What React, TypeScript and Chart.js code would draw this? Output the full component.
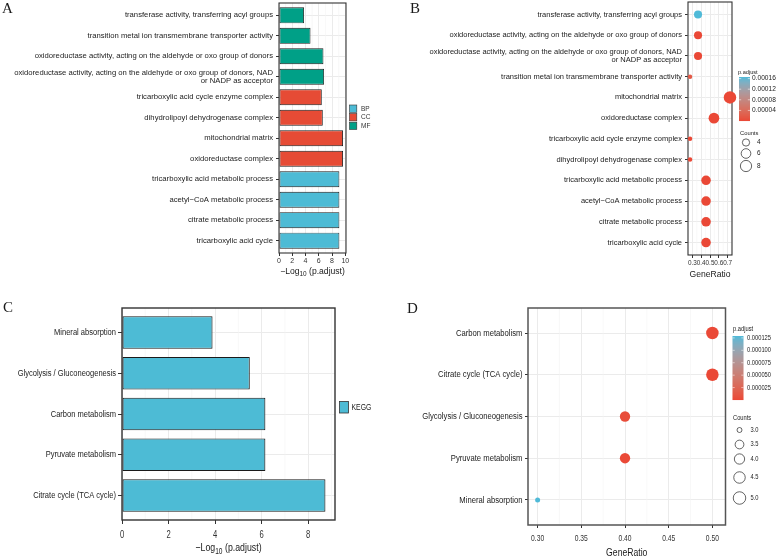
import React, { useEffect, useRef } from "react";
import { Chart, registerables } from "chart.js";
Chart.register(...registerables);

const W = 777;
const H = 560;
const SANS = '"Liberation Sans", Arial, sans-serif';
const SERIF = '"Liberation Serif", "Times New Roman", serif';
const NARROW_X = 0.8; // horizontal squeeze to mimic a narrow face

// ---------------- data ----------------
// Panel A: GO enrichment bar chart (top to bottom)
const goTerms = [
  "transferase activity, transferring acyl groups",
  "transition metal ion transmembrane transporter activity",
  "oxidoreductase activity, acting on the aldehyde or oxo group of donors",
  "oxidoreductase activity, acting on the aldehyde or oxo group of donors, NAD\nor NADP as acceptor",
  "tricarboxylic acid cycle enzyme complex",
  "dihydrolipoyl dehydrogenase complex",
  "mitochondrial matrix",
  "oxidoreductase complex",
  "tricarboxylic acid metabolic process",
  "acetyl\u2212CoA metabolic process",
  "citrate metabolic process",
  "tricarboxylic acid cycle",
];
const goOntology = ["MF", "MF", "MF", "MF", "CC", "CC", "CC", "CC", "BP", "BP", "BP", "BP"];
const goNegLogP = [3.78, 4.75, 6.7, 6.8, 6.45, 6.6, 9.65, 9.65, 9.1, 9.1, 9.1, 9.1];
const goBarTicks = [0, 2, 4, 6, 8, 10];
const goBarMinor = [1, 3, 5, 7, 9];
const ontologyNames = ["BP", "CC", "MF"];

// Panel B: GO dot plot (top to bottom)
const goDotTerms = [
  "transferase activity, transferring acyl groups",
  "oxidoreductase activity, acting on the aldehyde or oxo group of donors",
  "oxidoreductase activity, acting on the aldehyde or oxo group of donors, NAD\nor NADP as acceptor",
  "transition metal ion transmembrane transporter activity",
  "mitochondrial matrix",
  "oxidoreductase complex",
  "tricarboxylic acid cycle enzyme complex",
  "dihydrolipoyl dehydrogenase complex",
  "tricarboxylic acid metabolic process",
  "acetyl\u2212CoA metabolic process",
  "citrate metabolic process",
  "tricarboxylic acid cycle",
];
const goDotRatio = [0.364, 0.364, 0.364, 0.273, 0.727, 0.545, 0.273, 0.273, 0.455, 0.455, 0.455, 0.455];
const goDotCount = [4, 4, 4, 3, 8, 6, 3, 3, 5, 5, 5, 5];
const goDotTicks = [0.3, 0.4, 0.5, 0.6, 0.7];
const goDotMinor = [0.25, 0.35, 0.45, 0.55, 0.65, 0.75];
const goPBreaks = [0.00004, 0.00008, 0.00012, 0.00016];
const goCountBreaks = [4, 6, 8];

// Panel C: KEGG bar chart (top to bottom)
const keggTerms = [
  "Mineral absorption",
  "Glycolysis / Gluconeogenesis",
  "Carbon metabolism",
  "Pyruvate metabolism",
  "Citrate cycle (TCA cycle)",
];
const keggNegLogP = [3.89, 5.49, 6.16, 6.16, 8.74];
const keggBarTicks = [0, 2, 4, 6, 8];
const keggBarMinor = [1, 3, 5, 7, 9];

// Panel D: KEGG dot plot (top to bottom)
const keggDotTerms = [
  "Carbon metabolism",
  "Citrate cycle (TCA cycle)",
  "Glycolysis / Gluconeogenesis",
  "Pyruvate metabolism",
  "Mineral absorption",
];
const keggDotRatio = [0.5, 0.5, 0.4, 0.4, 0.3];
const keggDotCount = [5, 5, 4, 4, 3];
const keggDotTicks = [0.3, 0.35, 0.4, 0.45, 0.5];
const keggDotMinor = [0.325, 0.375, 0.425, 0.475];
const keggPBreaks = [0.000025, 0.00005, 0.000075, 0.0001, 0.000125];
const keggCountBreaks = [3, 3.5, 4, 4.5, 5];

// ---------------- styling ----------------
const ontologyColors: Record<string, string> = { BP: "#4DBBD5", CC: "#E64B35", MF: "#00A087" };
const keggColor = "#4DBBD5";
const LOW = "#EA4836";
const HIGH = "#4FBAD8";
const GRID = "#EBEBEB";
const MINOR = "#F3F3F3";

// Lab interpolation (like ggplot gradient)
function hexToRgb(h: string) {
  const n = parseInt(h.slice(1), 16);
  return [(n >> 16) & 255, (n >> 8) & 255, n & 255];
}
const toLin = (c: number) => {
  c /= 255;
  return c <= 0.04045 ? c / 12.92 : Math.pow((c + 0.055) / 1.055, 2.4);
};
const fromLin = (c: number) => {
  const v = c <= 0.0031308 ? 12.92 * c : 1.055 * Math.pow(c, 1 / 2.4) - 0.055;
  return Math.round(Math.min(1, Math.max(0, v)) * 255);
};
function rgbToLab(rgb: number[]) {
  const [R, G, B] = rgb.map(toLin);
  const X = (0.4124 * R + 0.3576 * G + 0.1805 * B) / 0.95047;
  const Y = 0.2126 * R + 0.7152 * G + 0.0722 * B;
  const Z = (0.0193 * R + 0.1192 * G + 0.9505 * B) / 1.08883;
  const f = (t: number) => (t > 0.008856 ? Math.cbrt(t) : 7.787 * t + 16 / 116);
  const fx = f(X), fy = f(Y), fz = f(Z);
  return [116 * fy - 16, 500 * (fx - fy), 200 * (fy - fz)];
}
function labToRgb(lab: number[]) {
  const [L, a, b] = lab;
  const fy = (L + 16) / 116, fx = fy + a / 500, fz = fy - b / 200;
  const fi = (t: number) => (t * t * t > 0.008856 ? t * t * t : (t - 16 / 116) / 7.787);
  const X = fi(fx) * 0.95047, Y = fi(fy), Z = fi(fz) * 1.08883;
  const R = 3.2406 * X - 1.5372 * Y - 0.4986 * Z;
  const G = -0.9689 * X + 1.8758 * Y + 0.0415 * Z;
  const B = 0.0557 * X - 0.204 * Y + 1.057 * Z;
  return [fromLin(R), fromLin(G), fromLin(B)];
}
const labLow = rgbToLab(hexToRgb(LOW));
const labHigh = rgbToLab(hexToRgb(HIGH));
function gradient(t: number) {
  const c = labLow.map((v, i) => v + (labHigh[i] - v) * t);
  const [r, g, b] = labToRgb(c);
  return `rgb(${r},${g},${b})`;
}

const sizeDiam = (c: number, cmin: number, cmax: number, dmin: number, dmax: number) =>
  dmin + (dmax - dmin) * Math.sqrt((c - cmin) / (cmax - cmin));

const pOf = (negLog: number) => Math.pow(10, -negLog);

type Part = { t: string; sub?: boolean };
function drawParts(ctx: CanvasRenderingContext2D, cx: number, cy: number, parts: Part[], size: number, family: string, color: string, sx = 1) {
  const fMain = `${size}px ${family}`;
  const fSub = `${size * 0.75}px ${family}`;
  const widths = parts.map((p) => {
    ctx.font = p.sub ? fSub : fMain;
    return ctx.measureText(p.t).width;
  });
  const total = widths.reduce((a, b) => a + b, 0);
  ctx.save();
  ctx.translate(cx, cy);
  ctx.scale(sx, 1);
  let x = -total / 2;
  ctx.fillStyle = color;
  ctx.textAlign = "left";
  ctx.textBaseline = "middle";
  parts.forEach((p, i) => {
    ctx.font = p.sub ? fSub : fMain;
    ctx.fillText(p.t, x, p.sub ? size * 0.3 : 0);
    x += widths[i];
  });
  ctx.restore();
}
function text(ctx: CanvasRenderingContext2D, s: string, x: number, y: number, size: number, family: string, color = "#222", align: CanvasTextAlign = "left", sx = 1) {
  ctx.save();
  ctx.translate(x, y);
  ctx.scale(sx, 1);
  ctx.font = `${size}px ${family}`;
  ctx.fillStyle = color;
  ctx.textAlign = align;
  ctx.textBaseline = "middle";
  ctx.fillText(s, 0, 0);
  ctx.restore();
}

type Spec = {
  l: number; r: number; t: number; b: number;
  xMin: number; xMax: number; xTicks: number[]; xMinor: number[]; xFmt: (v: number) => string;
  cats: string[];
  tickFont: { family: string; size: number; lineHeight?: number }; catFont: { family: string; size: number; lineHeight?: number };
  xPad: number; yPad: number; tickLen: number;
  manual?: { sx: number; tickSx: number; xLabelY: number };
  border: { color: string; width: number };
  title: { parts: Part[]; y: number; size: number; family: string };
  letter: { s: string; x: number; y: number; size: number };
  legend: (ctx: CanvasRenderingContext2D) => void;
};

const zeroPad = (s: any) => {
  s.paddingTop = 0; s.paddingBottom = 0; s.paddingLeft = 0; s.paddingRight = 0;
};

function baseOptions(sp: Spec, extra: any) {
  const n = sp.cats.length;
  return {
    responsive: false,
    maintainAspectRatio: false,
    animation: false,
    devicePixelRatio: 1,
    events: [],
    layout: { autoPadding: false, padding: { left: 0, top: sp.t, right: W - sp.r, bottom: 0 } },
    plugins: { legend: { display: false }, tooltip: { enabled: false } },
    scales: {
      x: {
        type: "linear",
        min: sp.xMin,
        max: sp.xMax,
        offset: false,
        afterBuildTicks: (s: any) => { s.ticks = sp.xTicks.map((v) => ({ value: v })); },
        afterFit: (s: any) => { s.height = H - sp.b; zeroPad(s); },
        border: { display: false },
        grid: { color: GRID, lineWidth: 1, tickColor: "#333", tickLength: sp.tickLen, drawTicks: true, offset: false },
        ticks: { display: !sp.manual, autoSkip: false, maxRotation: 0, minRotation: 0, padding: sp.xPad, color: "#333", font: sp.tickFont, callback: (v: any) => sp.xFmt(Number(v)) },
      },
      y: {
        type: "linear",
        reverse: true,
        min: -0.6,
        max: n - 1 + 0.6,
        offset: false,
        afterBuildTicks: (s: any) => { s.ticks = sp.cats.map((_, i) => ({ value: i })); },
        afterFit: (s: any) => { s.width = sp.l; zeroPad(s); },
        border: { display: false },
        grid: { color: GRID, lineWidth: 1, tickColor: "#333", tickLength: sp.tickLen, drawTicks: true, offset: false },
        ticks: {
          display: !sp.manual,
          autoSkip: false, padding: sp.yPad, color: "#222", font: sp.catFont,
          callback: (v: any) => {
            const lab = sp.cats[Math.round(Number(v))];
            return lab && lab.includes("\n") ? lab.split("\n") : lab;
          },
        },
      },
    },
    ...extra,
  };
}

function decoPlugin(sp: Spec) {
  return {
    id: "deco",
    beforeDatasetsDraw(chart: any) {
      const { ctx, chartArea: a, scales } = chart;
      ctx.save();
      ctx.strokeStyle = MINOR;
      ctx.lineWidth = 0.6;
      sp.xMinor.forEach((v) => {
        const x = scales.x.getPixelForValue(v);
        ctx.beginPath();
        ctx.moveTo(x, a.top);
        ctx.lineTo(x, a.bottom);
        ctx.stroke();
      });
      ctx.strokeStyle = sp.border.color;
      ctx.lineWidth = sp.border.width;
      ctx.strokeRect(a.left, a.top, a.right - a.left, a.bottom - a.top);
      ctx.restore();
    },
    afterDraw(chart: any) {
      const { ctx, chartArea: a, scales } = chart;
      ctx.save();
      const sx = sp.manual ? sp.manual.sx : 1;
      if (sp.manual) {
        sp.cats.forEach((c, i) => {
          const y = scales.y.getPixelForValue(i);
          text(ctx, c, a.left - sp.tickLen - sp.yPad, y, sp.catFont.size, sp.catFont.family, "#222", "right", sx);
        });
        sp.xTicks.forEach((v) => {
          const x = scales.x.getPixelForValue(v);
          text(ctx, sp.xFmt(v), x, sp.manual!.xLabelY, sp.tickFont.size, sp.tickFont.family, "#333", "center", sp.manual!.tickSx);
        });
      }
      drawParts(ctx, (a.left + a.right) / 2, sp.title.y, sp.title.parts, sp.title.size, sp.title.family, "#1a1a1a", sx);
      text(ctx, sp.letter.s, sp.letter.x, sp.letter.y, sp.letter.size, SERIF, "#1a1a1a");
      sp.legend(ctx);
      ctx.restore();
    },
  };
}

function colorbar(ctx: CanvasRenderingContext2D, x: number, y: number, w: number, h: number, pmin: number, pmax: number, breaks: number[], fmt: (v: number) => string, lx: number, size: number, family: string, sx = 1) {
  for (let i = 0; i < h; i++) {
    const t = 1 - (i + 0.5) / h;
    ctx.fillStyle = gradient(t);
    ctx.fillRect(x, y + i, w, 1.05);
  }
  breaks.forEach((v) => {
    const t = (v - pmin) / (pmax - pmin);
    const yy = y + h - t * h;
    ctx.strokeStyle = "rgba(255,255,255,0.9)";
    ctx.lineWidth = 0.6;
    ctx.beginPath();
    ctx.moveTo(x, yy); ctx.lineTo(x + w * 0.2, yy);
    ctx.moveTo(x + w * 0.8, yy); ctx.lineTo(x + w, yy);
    ctx.stroke();
    text(ctx, fmt(v), lx, yy, size, family, "#222", "left", sx);
  });
}

export default function App() {
  const refA = useRef<HTMLCanvasElement>(null);
  const refB = useRef<HTMLCanvasElement>(null);
  const refC = useRef<HTMLCanvasElement>(null);
  const refD = useRef<HTMLCanvasElement>(null);

  useEffect(() => {
    const charts: Chart[] = [];

    // ---------- A ----------
    const specA: Spec = {
      l: 279, r: 346, t: 3, b: 253,
      xMin: 0, xMax: 10.1, xTicks: goBarTicks, xMinor: goBarMinor, xFmt: (v) => String(v),
      cats: goTerms,
      tickFont: { family: SANS, size: 7 }, catFont: { family: SANS, size: 7.7, lineHeight: 1.08 },
      xPad: 1, yPad: 3, tickLen: 3,
      border: { color: "#333", width: 1.1 },
      title: { parts: [{ t: "\u2212Log" }, { t: "10", sub: true }, { t: " (p.adjust)" }], y: 272, size: 8.6, family: SANS },
      letter: { s: "A", x: 2, y: 9, size: 15 },
      legend: (ctx) => {
        ontologyNames.forEach((nm, i) => {
          const y = 105 + i * 8.6;
          ctx.fillStyle = ontologyColors[nm];
          ctx.fillRect(349.5, y, 7.3, 7.3);
          ctx.strokeStyle = "#333";
          ctx.lineWidth = 0.6;
          ctx.strokeRect(349.5, y, 7.3, 7.3);
          text(ctx, nm, 361, y + 3.8, 6.5, SANS, "#333");
        });
      },
    };
    charts.push(new Chart(refA.current!, {
      type: "bar",
      data: {
        datasets: [{
          data: goNegLogP.map((v, i) => ({ x: v, y: i })),
          backgroundColor: goOntology.map((o) => ontologyColors[o]),
          borderColor: "#1a1a1a",
          borderWidth: 0.9,
          borderSkipped: false,
          barPercentage: 0.78,
          categoryPercentage: 1,
        }],
      },
      options: baseOptions(specA, { indexAxis: "y" }) as any,
      plugins: [decoPlugin(specA)],
    } as any));

    // ---------- B ----------
    const goP = goDotTerms.map((t) => pOf(goNegLogP[goTerms.indexOf(t)]));
    const goPmin = Math.min(...goP), goPmax = Math.max(...goP);
    const bDmin = 4.5, bDmax = 12.5;
    const bCmin = Math.min(...goDotCount), bCmax = Math.max(...goDotCount);
    const specB: Spec = {
      l: 688, r: 732, t: 2, b: 255,
      xMin: 0.25, xMax: 0.75, xTicks: goDotTicks, xMinor: goDotMinor, xFmt: (v) => v.toFixed(1),
      cats: goDotTerms,
      tickFont: { family: SANS, size: 6.4 }, catFont: { family: SANS, size: 7.5, lineHeight: 1.08 },
      xPad: 1.5, yPad: 3, tickLen: 3,
      border: { color: "#333", width: 1.1 },
      title: { parts: [{ t: "GeneRatio" }], y: 275, size: 8.6, family: SANS },
      letter: { s: "B", x: 410, y: 9, size: 15 },
      legend: (ctx) => {
        text(ctx, "p.adjust", 738, 72.5, 5.6, SANS, "#222");
        colorbar(ctx, 739, 77, 11, 44, goPmin, goPmax, goPBreaks, (v) => v.toFixed(5), 752, 6.6, SANS);
        text(ctx, "Counts", 740, 133, 5.8, SANS, "#222");
        const ys = [142.5, 153.5, 166];
        goCountBreaks.forEach((c, i) => {
          const d = sizeDiam(c, bCmin, bCmax, bDmin, bDmax) * 0.9;
          ctx.strokeStyle = "#222";
          ctx.lineWidth = 0.7;
          ctx.beginPath();
          ctx.arc(746, ys[i], d / 2, 0, Math.PI * 2);
          ctx.stroke();
          text(ctx, String(c), 757, ys[i], 6.4, SANS, "#222");
        });
      },
    };
    charts.push(new Chart(refB.current!, {
      type: "bubble",
      data: {
        datasets: [{
          data: goDotRatio.map((x, i) => ({ x, y: i, r: sizeDiam(goDotCount[i], bCmin, bCmax, bDmin, bDmax) / 2 })),
          backgroundColor: goP.map((p) => gradient((p - goPmin) / (goPmax - goPmin))),
          borderWidth: 0,
          hoverRadius: 0,
          clip: false,
        }],
      },
      options: baseOptions(specB, {}) as any,
      plugins: [decoPlugin(specB)],
    } as any));

    // ---------- C ----------
    const specC: Spec = {
      l: 122, r: 335, t: 308, b: 520,
      xMin: 0, xMax: 9.15, xTicks: keggBarTicks, xMinor: keggBarMinor, xFmt: (v) => String(v),
      cats: keggTerms,
      tickFont: { family: SANS, size: 10.2 }, catFont: { family: SANS, size: 9.6 },
      xPad: 4, yPad: 2, tickLen: 4,
      manual: { sx: 0.785, tickSx: 0.75, xLabelY: 535 },
      border: { color: "#333", width: 1.4 },
      title: { parts: [{ t: "\u2212Log" }, { t: "10", sub: true }, { t: " (p.adjust)" }], y: 548, size: 11.2, family: SANS },
      letter: { s: "C", x: 3, y: 308, size: 15 },
      legend: (ctx) => {
        ctx.fillStyle = keggColor;
        ctx.fillRect(339.5, 401.5, 9, 11.5);
        ctx.strokeStyle = "#333";
        ctx.lineWidth = 0.8;
        ctx.strokeRect(339.5, 401.5, 9, 11.5);
        text(ctx, "KEGG", 351.5, 407.5, 8.6, SANS, "#222", "left", NARROW_X);
      },
    };
    charts.push(new Chart(refC.current!, {
      type: "bar",
      data: {
        datasets: [{
          data: keggNegLogP.map((v, i) => ({ x: v, y: i })),
          backgroundColor: keggColor,
          borderColor: "#1a1a1a",
          borderWidth: 1.1,
          borderSkipped: false,
          barPercentage: 0.8,
          categoryPercentage: 1,
        }],
      },
      options: baseOptions(specC, { indexAxis: "y" }) as any,
      plugins: [decoPlugin(specC)],
    } as any));

    // ---------- D ----------
    const keggP = keggDotTerms.map((t) => pOf(keggNegLogP[keggTerms.indexOf(t)]));
    const kPmin = Math.min(...keggP), kPmax = Math.max(...keggP);
    const dDmin = 5, dDmax = 12.5;
    const dCmin = Math.min(...keggDotCount), dCmax = Math.max(...keggDotCount);
    const specD: Spec = {
      l: 528, r: 725.5, t: 308, b: 525,
      xMin: 0.289, xMax: 0.515, xTicks: keggDotTicks, xMinor: keggDotMinor, xFmt: (v) => v.toFixed(2),
      cats: keggDotTerms,
      tickFont: { family: SANS, size: 9.6 }, catFont: { family: SANS, size: 9.6 },
      xPad: 4, yPad: 2.5, tickLen: 3,
      manual: { sx: 0.8, tickSx: 0.7, xLabelY: 538.5 },
      border: { color: "#555", width: 1.5 },
      title: { parts: [{ t: "GeneRatio" }], y: 553, size: 10.8, family: SANS },
      letter: { s: "D", x: 407, y: 309, size: 15 },
      legend: (ctx) => {
        text(ctx, "p.adjust", 733, 329.5, 7.2, SANS, "#222", "left", NARROW_X);
        colorbar(ctx, 732.5, 336, 11, 64, kPmin, kPmax, keggPBreaks, (v) => v.toFixed(6), 747, 7.2, SANS, NARROW_X);
        text(ctx, "Counts", 733, 418, 7.2, SANS, "#222", "left", NARROW_X);
        const ys = [430, 444.5, 459, 477.5, 498];
        keggCountBreaks.forEach((c, i) => {
          const d = sizeDiam(c, dCmin, dCmax, dDmin, dDmax);
          ctx.strokeStyle = "#222";
          ctx.lineWidth = 0.7;
          ctx.beginPath();
          ctx.arc(739.5, ys[i], d / 2, 0, Math.PI * 2);
          ctx.stroke();
          text(ctx, c.toFixed(1), 750.5, ys[i], 7.2, SANS, "#222", "left", NARROW_X);
        });
      },
    };
    charts.push(new Chart(refD.current!, {
      type: "bubble",
      data: {
        datasets: [{
          data: keggDotRatio.map((x, i) => ({ x, y: i, r: sizeDiam(keggDotCount[i], dCmin, dCmax, dDmin, dDmax) / 2 })),
          backgroundColor: keggP.map((p) => gradient((p - kPmin) / (kPmax - kPmin))),
          borderWidth: 0,
          hoverRadius: 0,
          clip: false,
        }],
      },
      options: baseOptions(specD, {}) as any,
      plugins: [decoPlugin(specD)],
    } as any));

    return () => charts.forEach((c) => c.destroy());
  }, []);

  const cs: React.CSSProperties = { position: "absolute", left: 0, top: 0, width: W, height: H };
  return (
    <div style={{ position: "fixed", left: 0, top: 0, width: W, height: H, background: "#fff", overflow: "hidden" }}>
      <canvas ref={refA} width={W} height={H} style={cs} />
      <canvas ref={refB} width={W} height={H} style={cs} />
      <canvas ref={refC} width={W} height={H} style={cs} />
      <canvas ref={refD} width={W} height={H} style={cs} />
    </div>
  );
}
